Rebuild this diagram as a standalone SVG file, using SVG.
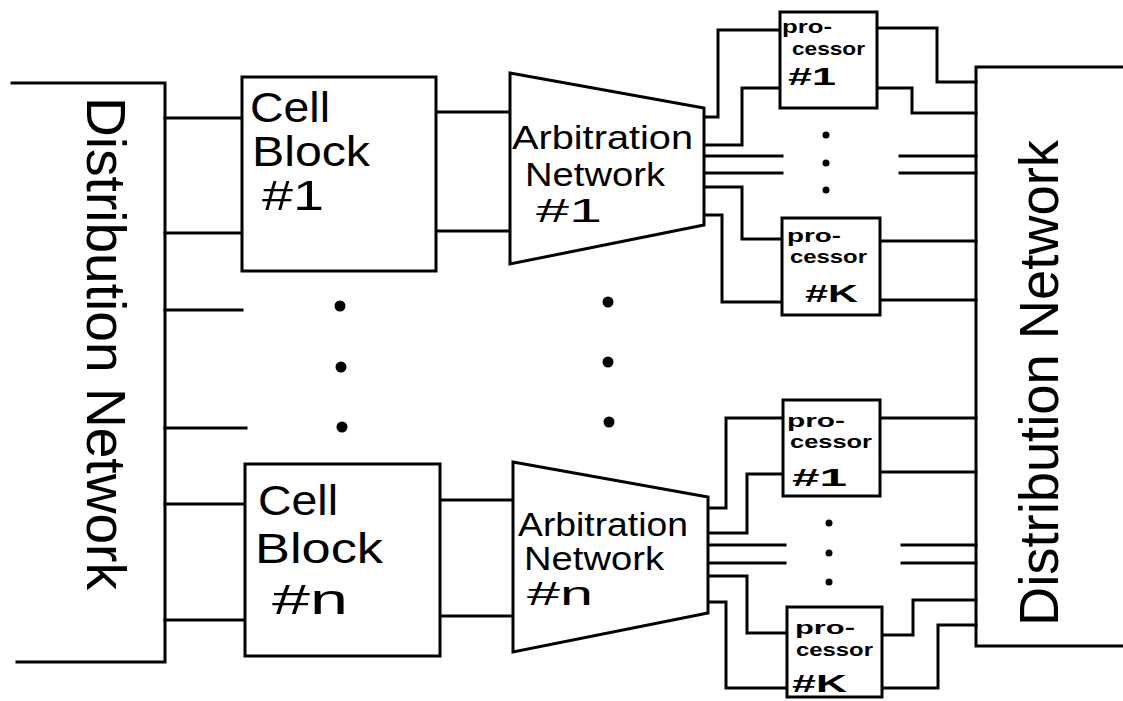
<svg xmlns="http://www.w3.org/2000/svg" width="1123" height="701" viewBox="0 0 1123 701">
<style>
.s{fill:none;stroke:#000;stroke-width:3;stroke-linecap:square;stroke-linejoin:miter}
.b{fill:#fff;stroke:#000;stroke-width:3}
.t{font-family:"Liberation Sans",Arial,sans-serif;fill:#000}
.big{font-size:42px}
.dn{font-size:55px}
.a{font-size:33px}
.p{font-size:19px;font-weight:bold}
.h{font-size:24px;font-weight:bold}
.d{fill:#000}
</style>
<rect width="1123" height="701" fill="#fff"/>
<g id="connectors" class="s">
<path d="M165 118H242M165 233H242M165 310H242M165 428H246M165 504H245M165 620H245"/>
<path d="M436 112H510M436 231H510M440 500H513M440 616H513"/>
<path d="M704 117H718V30H780M704 145H742V88H780M704 156H782M704 173H782M704 187H742V239H782M704 215H722V302H782"/>
<path d="M900 156H976M900 173H976M877 28H937V82H976M877 88H912V113H976M880 241H976M880 300H976"/>
<path d="M708 508H726V418H783M708 533H747V474H783M708 545H785M708 563H785M708 576H747V633H787M708 602H726V688H787"/>
<path d="M902 545H976M902 563H976M880 418H976M880 472H976M882 635H913V600H976M882 688H938V625H976"/>
</g>
<g id="dist-left">
<path class="s" d="M12 83H165V662H17"/>
<text class="t dn" transform="translate(87,97) rotate(90)" textLength="493" lengthAdjust="spacingAndGlyphs">Distribution Network</text>
</g>
<g id="dist-right">
<path class="s" d="M1123 67H976V646H1123"/>
<text class="t dn" transform="translate(1058,626) rotate(-90)" textLength="486" lengthAdjust="spacingAndGlyphs">Distribution Network</text>
</g>
<g id="cell-block-1">
<rect class="b" x="242" y="77" width="194" height="194"/>
<text class="t big" x="250" y="122" textLength="80" lengthAdjust="spacingAndGlyphs">Cell</text>
<text class="t big" x="252" y="166" textLength="118" lengthAdjust="spacingAndGlyphs">Block</text>
<text class="t big" x="262" y="210" textLength="62" lengthAdjust="spacingAndGlyphs">#1</text>
</g>
<g id="cell-block-n">
<rect class="b" x="245" y="464" width="195" height="192"/>
<text class="t big" x="258" y="515" textLength="80" lengthAdjust="spacingAndGlyphs">Cell</text>
<text class="t big" x="255" y="563" textLength="128" lengthAdjust="spacingAndGlyphs">Block</text>
<text class="t big" x="272" y="614" textLength="76" lengthAdjust="spacingAndGlyphs">#n</text>
</g>
<g id="arbitration-1">
<polygon class="b" points="510,73 704,108 704,225 510,264"/>
<text class="t a" x="512" y="149" textLength="181" lengthAdjust="spacingAndGlyphs">Arbitration</text>
<text class="t a" x="525" y="186" textLength="140" lengthAdjust="spacingAndGlyphs">Network</text>
<text class="t a" x="536" y="222" textLength="66" lengthAdjust="spacingAndGlyphs">#1</text>
</g>
<g id="arbitration-n">
<polygon class="b" points="513,462 708,497 708,613 513,652"/>
<text class="t a" x="518" y="536" textLength="170" lengthAdjust="spacingAndGlyphs">Arbitration</text>
<text class="t a" x="524" y="570" textLength="140" lengthAdjust="spacingAndGlyphs">Network</text>
<text class="t a" x="527" y="605" textLength="66" lengthAdjust="spacingAndGlyphs">#n</text>
</g>
<g id="processor-1-top">
<rect class="b" x="780" y="12" width="97" height="96"/>
<text class="t p" x="782" y="33" textLength="50" lengthAdjust="spacingAndGlyphs">pro-</text>
<text class="t p" x="792" y="55" textLength="73" lengthAdjust="spacingAndGlyphs">cessor</text>
<text class="t h" x="788" y="85" textLength="48" lengthAdjust="spacingAndGlyphs">#1</text>
</g>
<g id="processor-k-top">
<rect class="b" x="782" y="218" width="98" height="97"/>
<text class="t p" x="787" y="242" textLength="54" lengthAdjust="spacingAndGlyphs">pro-</text>
<text class="t p" x="790" y="263" textLength="77" lengthAdjust="spacingAndGlyphs">cessor</text>
<text class="t h" x="805" y="302" textLength="53" lengthAdjust="spacingAndGlyphs">#K</text>
</g>
<g id="processor-1-bottom">
<rect class="b" x="783" y="400" width="97" height="96"/>
<text class="t p" x="787" y="427" textLength="58" lengthAdjust="spacingAndGlyphs">pro-</text>
<text class="t p" x="790" y="448" textLength="82" lengthAdjust="spacingAndGlyphs">cessor</text>
<text class="t h" x="792" y="486" textLength="55" lengthAdjust="spacingAndGlyphs">#1</text>
</g>
<g id="processor-k-bottom">
<rect class="b" x="787" y="607" width="95" height="90"/>
<text class="t p" x="795" y="634" textLength="60" lengthAdjust="spacingAndGlyphs">pro-</text>
<text class="t p" x="796" y="656" textLength="77" lengthAdjust="spacingAndGlyphs">cessor</text>
<text class="t h" x="792" y="692" textLength="55" lengthAdjust="spacingAndGlyphs">#K</text>
</g>
<g id="ellipses" class="d">
<circle cx="340" cy="306" r="5.5"/>
<circle cx="341" cy="367" r="5.5"/>
<circle cx="342" cy="427" r="5.5"/>
<circle cx="608" cy="302" r="5.5"/>
<circle cx="608" cy="362" r="5.5"/>
<circle cx="609" cy="422" r="5.5"/>
<circle cx="826" cy="135" r="3.5"/>
<circle cx="826" cy="163" r="3.5"/>
<circle cx="826" cy="190" r="3.5"/>
<circle cx="829" cy="523" r="3.5"/>
<circle cx="829" cy="553" r="3.5"/>
<circle cx="829" cy="582" r="3.5"/>
</g>
</svg>
